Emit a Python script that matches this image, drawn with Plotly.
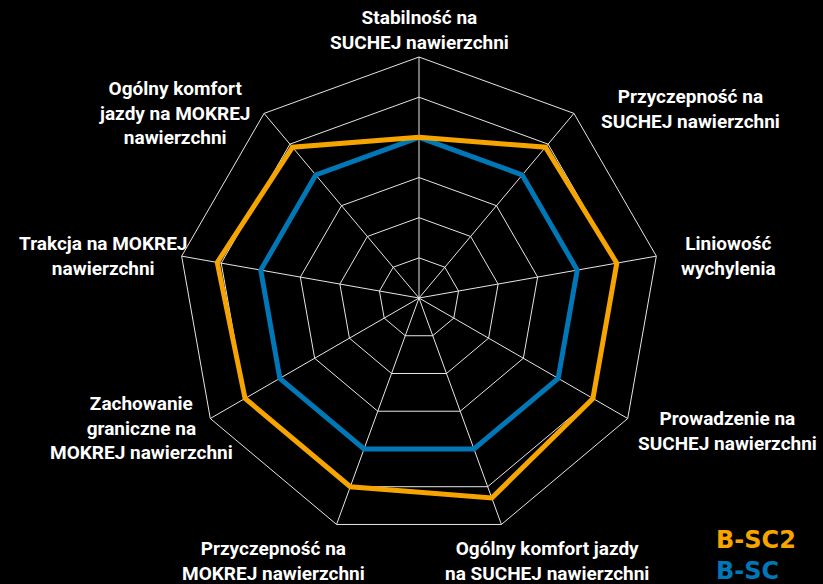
import plotly.graph_objects as go

# Axis categories (clockwise from the top)
categories = [
    "Stabilność na<br>SUCHEJ nawierzchni",
    "Przyczepność na<br>SUCHEJ nawierzchni",
    "Liniowość<br>wychylenia",
    "Prowadzenie na<br>SUCHEJ nawierzchni",
    "Ogólny komfort jazdy<br>na SUCHEJ nawierzchni",
    "Przyczepność na<br>MOKREJ nawierzchni",
    "Zachowanie<br>graniczne na<br>MOKREJ nawierzchni",
    "Trakcja na MOKREJ<br>nawierzchni",
    "Ogólny komfort<br>jazdy na MOKREJ<br>nawierzchni",
]

# Scores per tyre
b_sc2 = [4.0, 4.9, 5.0, 5.0, 5.3, 5.0, 5.0, 5.1, 4.9]
b_sc = [4.0, 4.0, 4.0, 4.0, 4.0, 4.0, 4.0, 4.0, 4.0]

series_names = ["B-SC2", "B-SC"]
series_colors = ["#F5A400", "#0077B6"]

W, H = 823, 584
cx, cy, R = 419, 298, 241  # polar centre / radius in pixels

# Label block centres (pixels)
label_pos = [
    (419, 30), (690, 109), (728, 256), (727, 431), (547, 561),
    (273, 561), (141, 428), (103, 256), (174, 113),
]

keys = [str(i) for i in range(len(categories))]

fig = go.Figure()
for vals, name, col in [(b_sc, series_names[1], series_colors[1]),
                        (b_sc2, series_names[0], series_colors[0])]:
    fig.add_trace(go.Scatterpolar(
        r=vals + vals[:1],
        theta=keys + keys[:1],
        mode="lines",
        line=dict(color=col, width=5),
        name=name,
        hoverinfo="skip",
    ))

label_font = dict(family="Liberation Sans Narrow, Roboto, sans-serif", size=19, color="white")
annotations = []
for text, (px, py) in zip(categories, label_pos):
    annotations.append(dict(
        text="<b>" + text + "</b>", x=px / W, y=1 - py / H, xref="paper", yref="paper",
        xanchor="center", yanchor="middle", align="center", showarrow=False,
        font=label_font,
    ))

# Legend text: both series names stacked in one block
legend_text = "<br>".join(
    f"<span style='color:{c}'><b>{n}</b></span>" for n, c in zip(series_names, series_colors)
)
annotations.append(dict(text=legend_text, x=714 / W, y=1 - 555 / H, xref="paper", yref="paper",
                        xanchor="left", yanchor="middle", align="left", showarrow=False,
                        font=dict(family="DejaVu Sans, sans-serif", size=24, color="white")))

fig.update_layout(
    width=W, height=H,
    margin=dict(l=0, r=0, t=0, b=0),
    paper_bgcolor="black",
    plot_bgcolor="black",
    showlegend=False,
    polar=dict(
        domain=dict(x=[(cx - R) / W, (cx + R) / W], y=[(H - cy - R) / H, (H - cy + R) / H]),
        bgcolor="black",
        gridshape="linear",
        radialaxis=dict(range=[0, 6], dtick=1, showticklabels=False, ticks="",
                        showline=False, gridcolor="#e6e6e6", gridwidth=1),
        angularaxis=dict(direction="clockwise", rotation=90, showticklabels=False, ticks="",
                         linecolor="#e6e6e6", linewidth=1, gridcolor="#e6e6e6", gridwidth=1,
                         categoryarray=keys, type="category"),
    ),
    annotations=annotations,
)

fig.write_html("out.html")
